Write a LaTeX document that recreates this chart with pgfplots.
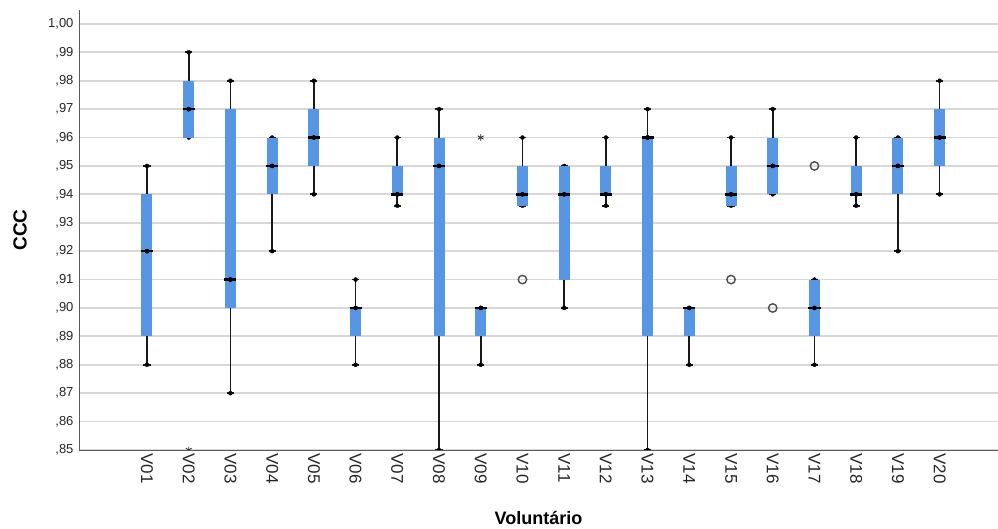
\documentclass[border=0pt]{standalone}
\usepackage{fontspec}
\setmainfont{Liberation Sans}
\usepackage{pgfplots}
\usepackage{pgfplotstable}
\pgfplotsset{compat=1.18}

\definecolor{boxblue}{RGB}{86,150,228}
\definecolor{gridgray}{RGB}{216,216,216}
\definecolor{axisgray}{RGB}{90,90,90}

% CCC per volunteer, in hundredths (92 = 0,92):
% lower whisker, first quartile, median, third quartile, upper whisker
\pgfplotstableread{
x  lw    q1    med  q3  uw
1  88    89    92   94  95
2  96    96    97   98  99
3  87    90    91   97  98
4  92    94    95   96  96
5  94    95    96   97  98
6  88    89    90   90  91
7  93.6  94    94   95  96
8  85    89    95   96  97
9  88    89    90   90  90
10 93.6  93.6  94   95  96
11 90    91    94   95  95
12 93.6  94    94   95  96
13 85    89    96   96  97
14 88    89    90   90  90
15 93.6  93.6  94   95  96
16 94    94    95   96  97
17 88    89    90   91  91
18 93.6  94    94   95  96
19 92    94    95   96  96
20 94    95    96   97  98
}\ccc

\pgfplotsset{
  hbar/.style={only marks, mark=none,
    error bars/.cd, x dir=both, x fixed=#1, error mark=none},
}

\begin{document}
\begin{tikzpicture}
\useasboundingbox (-79pt,-79pt) rectangle (919pt,450pt);
\begin{axis}[
  scale only axis,
  width=919pt, height=440pt,
  xmin=-0.63, xmax=21.40,
  ymin=85, ymax=100.49,
  clip marker paths=true,
  axis x line*=bottom, axis y line*=left,
  axis line style={axisgray, line width=0.8pt},
  major tick length=0pt,
  ytick={85,86,...,100},
  yticklabels={{,85},{,86},{,87},{,88},{,89},{,90},{,91},{,92},{,93},{,94},{,95},{,96},{,97},{,98},{,99},{1,00}},
  yticklabel style={font=\fontsize{13}{13}\selectfont, text=black!85, xshift=-2pt},
  xtick={1,...,20},
  xticklabels={V01,V02,V03,V04,V05,V06,V07,V08,V09,V10,V11,V12,V13,V14,V15,V16,V17,V18,V19,V20},
  xticklabel style={rotate=-90, anchor=west, font=\fontsize{17}{17}\selectfont, text=black!85},
  ymajorgrids,
  grid style={gridgray, line width=1.8pt},
  ylabel={CCC},
  ylabel style={at={(axis description cs:-0.064,0.5)}, anchor=center,
    font=\fontsize{19}{19}\selectfont\bfseries},
  xlabel={Voluntário},
  xlabel style={at={(axis description cs:0.5,-0.154)}, anchor=center,
    font=\fontsize{18}{18}\selectfont\bfseries},
]
% whiskers
\addplot[only marks, mark=none,
  error bars/.cd, y dir=both, y explicit, error mark=none,
  error bar style={black!90, line width=1.7pt}]
  table[x=x, y=med,
        y error plus expr=\thisrow{uw}-\thisrow{med},
        y error minus expr=\thisrow{med}-\thisrow{lw}] {\ccc};
% whisker end caps
\addplot[hbar=0.085, error bar style={black!90, line width=1.7pt}]
  table[x=x, y=lw] {\ccc};
\addplot[hbar=0.085, error bar style={black!90, line width=1.7pt}]
  table[x=x, y=uw] {\ccc};
% boxes from Q1 to Q3
\addplot[only marks, mark=none,
  error bars/.cd, y dir=both, y explicit, error mark=none,
  error bar style={boxblue, line width=11pt}]
  table[x=x, y=med,
        y error plus expr=\thisrow{q3}-\thisrow{med},
        y error minus expr=\thisrow{med}-\thisrow{q1}] {\ccc};
% medians
\addplot[hbar=0.145, error bar style={black, line width=2.6pt}]
  table[x=x, y=med] {\ccc};
% outliers
\addplot[only marks, mark=o, mark size=4.2pt, black!70, line width=1.4pt]
  coordinates {(10,91) (15,91) (16,90) (17,95)};
% extreme values
\addplot[only marks, mark=asterisk, mark size=3.3pt, black!80, line width=0.9pt]
  coordinates {(9,96) (2,85)};
\end{axis}
\end{tikzpicture}
\end{document}
